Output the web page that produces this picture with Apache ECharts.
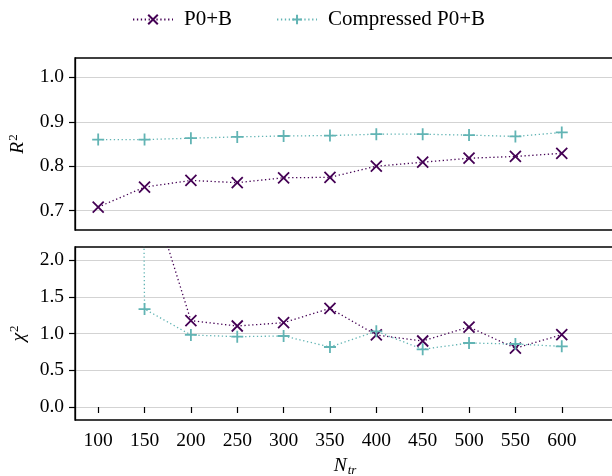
<!DOCTYPE html>
<html>
<head>
<meta charset="utf-8">
<script src="https://cdn.jsdelivr.net/npm/echarts@6/dist/echarts.min.js"></script>
<style>html,body{margin:0;padding:0;background:#fff;}#c{width:612px;height:476px;}</style>
</head>
<body>
<div id="c"></div>
<script>
const nTr = [100, 150, 200, 250, 300, 350, 400, 450, 500, 550, 600];
const r2P0B = [0.708, 0.753, 0.768, 0.763, 0.774, 0.775, 0.800, 0.809, 0.818, 0.822, 0.829];
const r2Comp = [0.860, 0.860, 0.863, 0.866, 0.868, 0.869, 0.872, 0.872, 0.870, 0.867, 0.876];
const chiP0B = [4.5, 3.2, 1.175, 1.102, 1.147, 1.342, 0.98, 0.898, 1.088, 0.80, 0.984];
const chiComp = [80.0, 1.333, 0.98, 0.957, 0.966, 0.816, 1.03, 0.785, 0.871, 0.857, 0.825];
const r2Ticks = [0.7, 0.8, 0.9, 1.0];
const chiTicks = [0.0, 0.5, 1.0, 1.5, 2.0];

const C1 = '#440154', C2 = '#62b4b4';
const FONT = 'Liberation Serif';
const FS = 19.5;
const X_PATH = 'path://M0,0L10,10M10,0L0,10';
const PLUS_PATH = 'path://M5,0L5,10M0,5L10,5';
const pairs = (xs, ys) => xs.map((x, i) => [x, ys[i]]);

const chart = echarts.init(document.getElementById('c'), null, {renderer: 'canvas'});
const xBase = {type: 'value', min: 75, max: 679, splitLine: {show: false}, axisLine: {show: false}};
function yAxisOf(gi, min, max, ticks, name, gap) {
  return {
    type: 'value', gridIndex: gi, min, max,
    axisLine: {show: true, onZero: false, lineStyle: {color: '#000', width: 1.3}},
    axisTick: {show: true, inside: false, length: 6, customValues: ticks, lineStyle: {color: '#000', width: 1.2}},
    axisLabel: {show: true, customValues: ticks, color: '#000', fontFamily: FONT, fontSize: FS, margin: 11,
      formatter: v => v.toFixed(1)},
    splitLine: {show: true, lineStyle: {color: '#d3d3d3', width: 1}},
    name, nameLocation: 'middle', nameRotate: 90, nameGap: gap,
    nameTextStyle: {rich: nameRich}
  };
}
function serie(name, xi, data, color, sym, size) {
  return {
    name, type: 'line', xAxisIndex: xi, yAxisIndex: xi, data,
    symbol: sym, symbolSize: size, showSymbol: true, clip: true,
    lineStyle: {color, width: 1.3, type: [1.3, 2.6]},
    itemStyle: {color, borderColor: color, borderWidth: 1.8},
    emphasis: {disabled: true}, animation: false
  };
}
const nameRich = {
  i: {fontFamily: FONT, fontStyle: 'italic', fontSize: FS, color: '#000'},
  sup: {fontFamily: FONT, fontSize: 13, color: '#000', padding: [0, 0, 9, 1]},
  sub: {fontFamily: FONT, fontStyle: 'italic', fontSize: 13, color: '#000', padding: [9, 0, 0, 1]}
};
const gridBase = {left: 75, width: 560, show: true, borderColor: '#000', borderWidth: 1.3,
  backgroundColor: 'transparent', containLabel: false, outerBoundsMode: 'none'};
chart.setOption({
  animation: false,
  legend: {
    top: 4, left: 127, itemWidth: 40, itemHeight: 12, itemGap: 44,
    textStyle: {fontFamily: FONT, fontSize: 21, color: '#000', padding: [0, 0, 0, 6]},
    data: ['P0+B', 'Compressed P0+B']
  },
  grid: [
    Object.assign({}, gridBase, {top: 58, height: 172}),
    Object.assign({}, gridBase, {top: 247, height: 173})
  ],
  xAxis: [
    Object.assign({}, xBase, {gridIndex: 0, axisTick: {show: false}, axisLabel: {show: false}}),
    Object.assign({}, xBase, {
      gridIndex: 1,
      axisTick: {show: true, length: 6, customValues: nTr, lineStyle: {color: '#000', width: 1.2}},
      axisLabel: {show: true, customValues: nTr, color: '#000', fontFamily: FONT, fontSize: FS, margin: 11},
      name: '{i|N}{sub|tr}', nameLocation: 'middle', nameGap: 35,
      nameTextStyle: {padding: [0, 20, 0, 0], rich: nameRich}
    })
  ],
  yAxis: [
    yAxisOf(0, 0.6565, 1.0435, r2Ticks, '{i|R}{sup|2}', 46),
    yAxisOf(1, -0.177, 2.177, chiTicks, '{i|χ}{sup|2}', 45)
  ],
  series: [
    serie('P0+B', 0, pairs(nTr, r2P0B), C1, X_PATH, 11),
    serie('Compressed P0+B', 0, pairs(nTr, r2Comp), C2, PLUS_PATH, 12),
    serie('P0+B', 1, pairs(nTr, chiP0B), C1, X_PATH, 11),
    serie('Compressed P0+B', 1, pairs(nTr, chiComp), C2, PLUS_PATH, 12)
  ]
});
</script>
</body>
</html>
